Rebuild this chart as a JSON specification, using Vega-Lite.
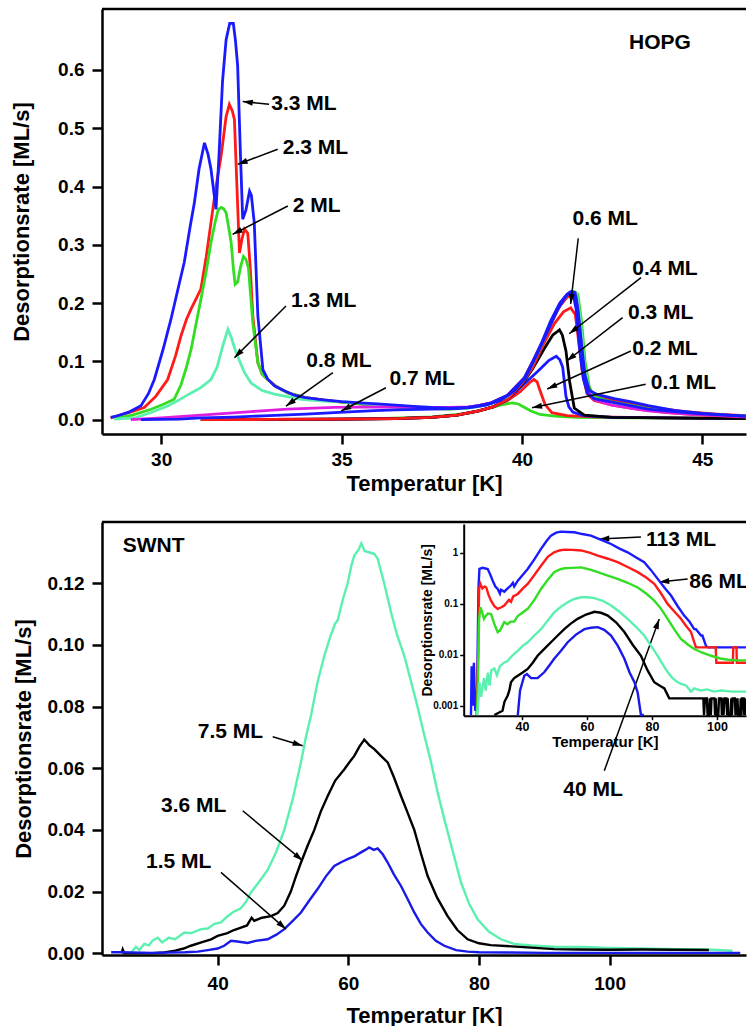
{
  "$schema": "https://vega.github.io/schema/vega-lite/v6.json",
  "padding": {"left": 10, "top": 7, "right": 0, "bottom": 0},
  "spacing": 26,
  "config": {
    "font": "Liberation Sans",
    "view": {"stroke": null},
    "axis": {
      "grid": false,
      "domainColor": "black", "domainWidth": 2.5,
      "tickColor": "black", "tickWidth": 2.5, "tickSize": 10,
      "labelFont": "Liberation Sans", "labelFontWeight": "bold", "labelFontSize": 19, "labelColor": "black", "labelPadding": 8,
      "titleFont": "Liberation Sans", "titleFontWeight": "bold", "titleFontSize": 22, "titleColor": "black"
    }
  },
  "datasets": {
    "hopg": [
      {"s":"0.1 ML","T":31.1,"r":0},{"s":"0.1 ML","T":34,"r":0.0005},{"s":"0.1 ML","T":36,"r":0.002},{"s":"0.1 ML","T":37.5,"r":0.005},{"s":"0.1 ML","T":38.5,"r":0.011},{"s":"0.1 ML","T":39.0,"r":0.018},{"s":"0.1 ML","T":39.4,"r":0.025},{"s":"0.1 ML","T":39.73,"r":0.029},{"s":"0.1 ML","T":39.9,"r":0.027},{"s":"0.1 ML","T":40.1,"r":0.02},{"s":"0.1 ML","T":40.25,"r":0.015},{"s":"0.1 ML","T":40.5,"r":0.009},{"s":"0.1 ML","T":40.9,"r":0.006},{"s":"0.1 ML","T":41.5,"r":0.004},{"s":"0.1 ML","T":43,"r":0.003},{"s":"0.1 ML","T":46.2,"r":0.002},
      {"s":"0.2 ML","T":31.1,"r":0},{"s":"0.2 ML","T":33,"r":0.0005},{"s":"0.2 ML","T":35,"r":0.001},{"s":"0.2 ML","T":36.5,"r":0.002},{"s":"0.2 ML","T":37.5,"r":0.004},{"s":"0.2 ML","T":38.2,"r":0.008},{"s":"0.2 ML","T":38.8,"r":0.015},{"s":"0.2 ML","T":39.2,"r":0.022},{"s":"0.2 ML","T":39.6,"r":0.033},{"s":"0.2 ML","T":39.95,"r":0.048},{"s":"0.2 ML","T":40.2,"r":0.063},{"s":"0.2 ML","T":40.33,"r":0.069},{"s":"0.2 ML","T":40.42,"r":0.065},{"s":"0.2 ML","T":40.5,"r":0.05},{"s":"0.2 ML","T":40.64,"r":0.026},{"s":"0.2 ML","T":40.83,"r":0.012},{"s":"0.2 ML","T":41.25,"r":0.007},{"s":"0.2 ML","T":42,"r":0.005},{"s":"0.2 ML","T":44,"r":0.003},{"s":"0.2 ML","T":46.2,"r":0.002},
      {"s":"0.3 ML","T":31.1,"r":0},{"s":"0.3 ML","T":33,"r":0.0005},{"s":"0.3 ML","T":35,"r":0.001},{"s":"0.3 ML","T":36.5,"r":0.002},{"s":"0.3 ML","T":37.5,"r":0.004},{"s":"0.3 ML","T":38.2,"r":0.008},{"s":"0.3 ML","T":38.8,"r":0.015},{"s":"0.3 ML","T":39.2,"r":0.022},{"s":"0.3 ML","T":39.6,"r":0.035},{"s":"0.3 ML","T":40.0,"r":0.058},{"s":"0.3 ML","T":40.44,"r":0.083},{"s":"0.3 ML","T":40.75,"r":0.102},{"s":"0.3 ML","T":40.95,"r":0.109},{"s":"0.3 ML","T":41.05,"r":0.103},{"s":"0.3 ML","T":41.13,"r":0.09},{"s":"0.3 ML","T":41.22,"r":0.04},{"s":"0.3 ML","T":41.3,"r":0.022},{"s":"0.3 ML","T":41.41,"r":0.013},{"s":"0.3 ML","T":41.7,"r":0.007},{"s":"0.3 ML","T":42.5,"r":0.004},{"s":"0.3 ML","T":46.2,"r":0.002},
      {"s":"0.4 ML","T":31.1,"r":0},{"s":"0.4 ML","T":33,"r":0.0005},{"s":"0.4 ML","T":35,"r":0.001},{"s":"0.4 ML","T":36.5,"r":0.002},{"s":"0.4 ML","T":37.5,"r":0.004},{"s":"0.4 ML","T":38.2,"r":0.008},{"s":"0.4 ML","T":38.8,"r":0.015},{"s":"0.4 ML","T":39.2,"r":0.022},{"s":"0.4 ML","T":39.6,"r":0.035},{"s":"0.4 ML","T":40.0,"r":0.06},{"s":"0.4 ML","T":40.3,"r":0.088},{"s":"0.4 ML","T":40.6,"r":0.12},{"s":"0.4 ML","T":40.85,"r":0.145},{"s":"0.4 ML","T":41.04,"r":0.154},{"s":"0.4 ML","T":41.12,"r":0.145},{"s":"0.4 ML","T":41.22,"r":0.118},{"s":"0.4 ML","T":41.32,"r":0.066},{"s":"0.4 ML","T":41.45,"r":0.02},{"s":"0.4 ML","T":41.73,"r":0.008},{"s":"0.4 ML","T":42.5,"r":0.004},{"s":"0.4 ML","T":44,"r":0.003},{"s":"0.4 ML","T":46.2,"r":0.002},
      {"s":"0.6 ML","T":31.1,"r":0},{"s":"0.6 ML","T":33,"r":0.0005},{"s":"0.6 ML","T":35,"r":0.001},{"s":"0.6 ML","T":36.5,"r":0.002},{"s":"0.6 ML","T":37.5,"r":0.004},{"s":"0.6 ML","T":38.2,"r":0.008},{"s":"0.6 ML","T":38.8,"r":0.015},{"s":"0.6 ML","T":39.2,"r":0.022},{"s":"0.6 ML","T":39.6,"r":0.035},{"s":"0.6 ML","T":40.0,"r":0.062},{"s":"0.6 ML","T":40.3,"r":0.09},{"s":"0.6 ML","T":40.6,"r":0.13},{"s":"0.6 ML","T":40.9,"r":0.165},{"s":"0.6 ML","T":41.15,"r":0.185},{"s":"0.6 ML","T":41.35,"r":0.192},{"s":"0.6 ML","T":41.48,"r":0.18},{"s":"0.6 ML","T":41.58,"r":0.13},{"s":"0.6 ML","T":41.68,"r":0.08},{"s":"0.6 ML","T":41.8,"r":0.045},{"s":"0.6 ML","T":42.0,"r":0.033},{"s":"0.6 ML","T":42.5,"r":0.025},{"s":"0.6 ML","T":43.2,"r":0.018},{"s":"0.6 ML","T":44,"r":0.012},{"s":"0.6 ML","T":45,"r":0.008},{"s":"0.6 ML","T":46.2,"r":0.005},
      {"s":"2.3 ML","T":28.6,"r":0.003},{"s":"2.3 ML","T":28.75,"r":0.006},{"s":"2.3 ML","T":29.1,"r":0.012},{"s":"2.3 ML","T":29.53,"r":0.021},{"s":"2.3 ML","T":29.85,"r":0.04},{"s":"2.3 ML","T":30.18,"r":0.069},{"s":"2.3 ML","T":30.4,"r":0.11},{"s":"2.3 ML","T":30.55,"r":0.144},{"s":"2.3 ML","T":30.7,"r":0.172},{"s":"2.3 ML","T":30.83,"r":0.19},{"s":"2.3 ML","T":30.95,"r":0.205},{"s":"2.3 ML","T":31.1,"r":0.224},{"s":"2.3 ML","T":31.25,"r":0.28},{"s":"2.3 ML","T":31.38,"r":0.338},{"s":"2.3 ML","T":31.52,"r":0.4},{"s":"2.3 ML","T":31.66,"r":0.452},{"s":"2.3 ML","T":31.8,"r":0.52},{"s":"2.3 ML","T":31.89,"r":0.541},{"s":"2.3 ML","T":31.97,"r":0.53},{"s":"2.3 ML","T":32.03,"r":0.515},{"s":"2.3 ML","T":32.1,"r":0.4},{"s":"2.3 ML","T":32.17,"r":0.286},{"s":"2.3 ML","T":32.24,"r":0.31},{"s":"2.3 ML","T":32.31,"r":0.327},{"s":"2.3 ML","T":32.4,"r":0.32},{"s":"2.3 ML","T":32.47,"r":0.26},{"s":"2.3 ML","T":32.54,"r":0.178},{"s":"2.3 ML","T":32.68,"r":0.098},{"s":"2.3 ML","T":32.8,"r":0.078},{"s":"2.3 ML","T":32.95,"r":0.069},{"s":"2.3 ML","T":33.2,"r":0.057},{"s":"2.3 ML","T":33.51,"r":0.046},{"s":"2.3 ML","T":34,"r":0.038},{"s":"2.3 ML","T":34.5,"r":0.034},{"s":"2.3 ML","T":35,"r":0.03},{"s":"2.3 ML","T":35.5,"r":0.027},{"s":"2.3 ML","T":36,"r":0.024},{"s":"2.3 ML","T":36.5,"r":0.022},{"s":"2.3 ML","T":37,"r":0.02},{"s":"2.3 ML","T":37.5,"r":0.019},{"s":"2.3 ML","T":38,"r":0.019},{"s":"2.3 ML","T":38.5,"r":0.021},{"s":"2.3 ML","T":38.8,"r":0.024},{"s":"2.3 ML","T":39.15,"r":0.029},{"s":"2.3 ML","T":39.6,"r":0.042},{"s":"2.3 ML","T":40.07,"r":0.072},{"s":"2.3 ML","T":40.3,"r":0.1},{"s":"2.3 ML","T":40.53,"r":0.128},{"s":"2.3 ML","T":40.8,"r":0.165},{"s":"2.3 ML","T":41.05,"r":0.195},{"s":"2.3 ML","T":41.25,"r":0.21},{"s":"2.3 ML","T":41.4,"r":0.215},{"s":"2.3 ML","T":41.5,"r":0.21},{"s":"2.3 ML","T":41.6,"r":0.18},{"s":"2.3 ML","T":41.7,"r":0.11},{"s":"2.3 ML","T":41.8,"r":0.065},{"s":"2.3 ML","T":41.95,"r":0.045},{"s":"2.3 ML","T":42.3,"r":0.036},{"s":"2.3 ML","T":42.8,"r":0.03},{"s":"2.3 ML","T":43.5,"r":0.022},{"s":"2.3 ML","T":44.5,"r":0.014},{"s":"2.3 ML","T":45.5,"r":0.009},{"s":"2.3 ML","T":46.2,"r":0.007},
      {"s":"2 ML","T":28.7,"r":0.002},{"s":"2 ML","T":29.2,"r":0.008},{"s":"2 ML","T":29.72,"r":0.018},{"s":"2 ML","T":30.05,"r":0.026},{"s":"2 ML","T":30.36,"r":0.035},{"s":"2 ML","T":30.55,"r":0.06},{"s":"2 ML","T":30.7,"r":0.09},{"s":"2 ML","T":30.83,"r":0.121},{"s":"2 ML","T":30.97,"r":0.165},{"s":"2 ML","T":31.1,"r":0.206},{"s":"2 ML","T":31.25,"r":0.255},{"s":"2 ML","T":31.38,"r":0.304},{"s":"2 ML","T":31.5,"r":0.34},{"s":"2 ML","T":31.58,"r":0.36},{"s":"2 ML","T":31.66,"r":0.364},{"s":"2 ML","T":31.73,"r":0.362},{"s":"2 ML","T":31.8,"r":0.355},{"s":"2 ML","T":31.87,"r":0.33},{"s":"2 ML","T":31.94,"r":0.304},{"s":"2 ML","T":32.0,"r":0.26},{"s":"2 ML","T":32.05,"r":0.232},{"s":"2 ML","T":32.12,"r":0.236},{"s":"2 ML","T":32.2,"r":0.262},{"s":"2 ML","T":32.28,"r":0.28},{"s":"2 ML","T":32.35,"r":0.275},{"s":"2 ML","T":32.42,"r":0.26},{"s":"2 ML","T":32.54,"r":0.166},{"s":"2 ML","T":32.68,"r":0.098},{"s":"2 ML","T":32.8,"r":0.078},{"s":"2 ML","T":32.95,"r":0.069},{"s":"2 ML","T":33.2,"r":0.056},{"s":"2 ML","T":33.51,"r":0.046},{"s":"2 ML","T":34,"r":0.038},{"s":"2 ML","T":34.5,"r":0.033},{"s":"2 ML","T":35,"r":0.03},{"s":"2 ML","T":35.5,"r":0.027},{"s":"2 ML","T":36,"r":0.024},{"s":"2 ML","T":36.5,"r":0.022},{"s":"2 ML","T":37,"r":0.02},{"s":"2 ML","T":37.5,"r":0.019},{"s":"2 ML","T":38,"r":0.018},{"s":"2 ML","T":38.5,"r":0.02},{"s":"2 ML","T":38.8,"r":0.023},{"s":"2 ML","T":39.15,"r":0.028},{"s":"2 ML","T":39.6,"r":0.04},{"s":"2 ML","T":40.07,"r":0.07},{"s":"2 ML","T":40.3,"r":0.097},{"s":"2 ML","T":40.53,"r":0.127},{"s":"2 ML","T":40.8,"r":0.165},{"s":"2 ML","T":41.05,"r":0.198},{"s":"2 ML","T":41.25,"r":0.214},{"s":"2 ML","T":41.45,"r":0.22},{"s":"2 ML","T":41.55,"r":0.215},{"s":"2 ML","T":41.65,"r":0.17},{"s":"2 ML","T":41.75,"r":0.1},{"s":"2 ML","T":41.87,"r":0.055},{"s":"2 ML","T":42.0,"r":0.04},{"s":"2 ML","T":42.5,"r":0.03},{"s":"2 ML","T":43,"r":0.025},{"s":"2 ML","T":43.5,"r":0.019},{"s":"2 ML","T":44.5,"r":0.012},{"s":"2 ML","T":45.5,"r":0.008},{"s":"2 ML","T":46.2,"r":0.006},
      {"s":"1.3 ML","T":28.7,"r":0.001},{"s":"1.3 ML","T":29.26,"r":0.003},{"s":"1.3 ML","T":29.7,"r":0.012},{"s":"1.3 ML","T":30.18,"r":0.0235},{"s":"1.3 ML","T":30.5,"r":0.034},{"s":"1.3 ML","T":30.83,"r":0.046},{"s":"1.3 ML","T":31.1,"r":0.055},{"s":"1.3 ML","T":31.38,"r":0.069},{"s":"1.3 ML","T":31.55,"r":0.09},{"s":"1.3 ML","T":31.7,"r":0.125},{"s":"1.3 ML","T":31.85,"r":0.155},{"s":"1.3 ML","T":31.95,"r":0.14},{"s":"1.3 ML","T":32.05,"r":0.12},{"s":"1.3 ML","T":32.12,"r":0.109},{"s":"1.3 ML","T":32.3,"r":0.082},{"s":"1.3 ML","T":32.49,"r":0.063},{"s":"1.3 ML","T":32.8,"r":0.05},{"s":"1.3 ML","T":33.14,"r":0.044},{"s":"1.3 ML","T":33.88,"r":0.035},{"s":"1.3 ML","T":34.5,"r":0.032},{"s":"1.3 ML","T":35,"r":0.031},{"s":"1.3 ML","T":35.5,"r":0.029},{"s":"1.3 ML","T":36,"r":0.025},{"s":"1.3 ML","T":36.5,"r":0.023},{"s":"1.3 ML","T":37,"r":0.021},{"s":"1.3 ML","T":37.5,"r":0.02},{"s":"1.3 ML","T":38,"r":0.019},{"s":"1.3 ML","T":38.5,"r":0.02},{"s":"1.3 ML","T":38.8,"r":0.023},{"s":"1.3 ML","T":39.15,"r":0.028},{"s":"1.3 ML","T":39.6,"r":0.04},{"s":"1.3 ML","T":40.07,"r":0.07},{"s":"1.3 ML","T":40.3,"r":0.097},{"s":"1.3 ML","T":40.53,"r":0.127},{"s":"1.3 ML","T":40.8,"r":0.166},{"s":"1.3 ML","T":41.05,"r":0.198},{"s":"1.3 ML","T":41.25,"r":0.214},{"s":"1.3 ML","T":41.42,"r":0.22},{"s":"1.3 ML","T":41.52,"r":0.215},{"s":"1.3 ML","T":41.62,"r":0.17},{"s":"1.3 ML","T":41.72,"r":0.1},{"s":"1.3 ML","T":41.85,"r":0.05},{"s":"1.3 ML","T":42.0,"r":0.035},{"s":"1.3 ML","T":42.5,"r":0.026},{"s":"1.3 ML","T":43,"r":0.021},{"s":"1.3 ML","T":43.5,"r":0.016},{"s":"1.3 ML","T":44.5,"r":0.011},{"s":"1.3 ML","T":45.5,"r":0.008},{"s":"1.3 ML","T":46.2,"r":0.006},
      {"s":"0.8 ML","T":29.16,"r":0},{"s":"0.8 ML","T":30,"r":0.003},{"s":"0.8 ML","T":31.1,"r":0.008},{"s":"0.8 ML","T":32.5,"r":0.014},{"s":"0.8 ML","T":33.5,"r":0.018},{"s":"0.8 ML","T":34.8,"r":0.021},{"s":"0.8 ML","T":36,"r":0.022},{"s":"0.8 ML","T":37,"r":0.021},{"s":"0.8 ML","T":38,"r":0.021},{"s":"0.8 ML","T":38.5,"r":0.022},{"s":"0.8 ML","T":38.8,"r":0.024},{"s":"0.8 ML","T":39.15,"r":0.029},{"s":"0.8 ML","T":39.6,"r":0.041},{"s":"0.8 ML","T":40.07,"r":0.071},{"s":"0.8 ML","T":40.3,"r":0.098},{"s":"0.8 ML","T":40.53,"r":0.128},{"s":"0.8 ML","T":40.8,"r":0.167},{"s":"0.8 ML","T":41.05,"r":0.199},{"s":"0.8 ML","T":41.25,"r":0.215},{"s":"0.8 ML","T":41.4,"r":0.22},{"s":"0.8 ML","T":41.5,"r":0.212},{"s":"0.8 ML","T":41.6,"r":0.16},{"s":"0.8 ML","T":41.7,"r":0.09},{"s":"0.8 ML","T":41.82,"r":0.05},{"s":"0.8 ML","T":42,"r":0.034},{"s":"0.8 ML","T":42.5,"r":0.025},{"s":"0.8 ML","T":43,"r":0.02},{"s":"0.8 ML","T":43.5,"r":0.015},{"s":"0.8 ML","T":44.5,"r":0.01},{"s":"0.8 ML","T":45.5,"r":0.007},{"s":"0.8 ML","T":46.2,"r":0.005},
      {"s":"0.7 ML","T":29.44,"r":0},{"s":"0.7 ML","T":30.5,"r":0.001},{"s":"0.7 ML","T":31.1,"r":0.003},{"s":"0.7 ML","T":32,"r":0.0046},{"s":"0.7 ML","T":33,"r":0.007},{"s":"0.7 ML","T":34,"r":0.0095},{"s":"0.7 ML","T":34.8,"r":0.012},{"s":"0.7 ML","T":35.9,"r":0.0155},{"s":"0.7 ML","T":36.5,"r":0.017},{"s":"0.7 ML","T":37.5,"r":0.018},{"s":"0.7 ML","T":38.2,"r":0.019},{"s":"0.7 ML","T":38.6,"r":0.021},{"s":"0.7 ML","T":39,"r":0.025},{"s":"0.7 ML","T":39.4,"r":0.033},{"s":"0.7 ML","T":39.8,"r":0.05},{"s":"0.7 ML","T":40.1,"r":0.072},{"s":"0.7 ML","T":40.4,"r":0.11},{"s":"0.7 ML","T":40.7,"r":0.15},{"s":"0.7 ML","T":41.0,"r":0.19},{"s":"0.7 ML","T":41.2,"r":0.21},{"s":"0.7 ML","T":41.32,"r":0.218},{"s":"0.7 ML","T":41.42,"r":0.215},{"s":"0.7 ML","T":41.5,"r":0.19},{"s":"0.7 ML","T":41.6,"r":0.12},{"s":"0.7 ML","T":41.7,"r":0.07},{"s":"0.7 ML","T":41.82,"r":0.045},{"s":"0.7 ML","T":42,"r":0.036},{"s":"0.7 ML","T":42.5,"r":0.03},{"s":"0.7 ML","T":43,"r":0.024},{"s":"0.7 ML","T":43.5,"r":0.018},{"s":"0.7 ML","T":44.22,"r":0.014},{"s":"0.7 ML","T":45,"r":0.01},{"s":"0.7 ML","T":46.2,"r":0.006},
      {"s":"3.3 ML","T":28.6,"r":0.004},{"s":"3.3 ML","T":28.75,"r":0.006},{"s":"3.3 ML","T":29.1,"r":0.013},{"s":"3.3 ML","T":29.44,"r":0.024},{"s":"3.3 ML","T":29.65,"r":0.045},{"s":"3.3 ML","T":29.81,"r":0.069},{"s":"3.3 ML","T":30.05,"r":0.12},{"s":"3.3 ML","T":30.27,"r":0.172},{"s":"3.3 ML","T":30.45,"r":0.22},{"s":"3.3 ML","T":30.64,"r":0.27},{"s":"3.3 ML","T":30.8,"r":0.33},{"s":"3.3 ML","T":30.92,"r":0.372},{"s":"3.3 ML","T":31.05,"r":0.43},{"s":"3.3 ML","T":31.2,"r":0.475},{"s":"3.3 ML","T":31.3,"r":0.455},{"s":"3.3 ML","T":31.38,"r":0.43},{"s":"3.3 ML","T":31.52,"r":0.361},{"s":"3.3 ML","T":31.6,"r":0.45},{"s":"3.3 ML","T":31.7,"r":0.58},{"s":"3.3 ML","T":31.8,"r":0.652},{"s":"3.3 ML","T":31.9,"r":0.68},{"s":"3.3 ML","T":32.0,"r":0.68},{"s":"3.3 ML","T":32.06,"r":0.65},{"s":"3.3 ML","T":32.12,"r":0.607},{"s":"3.3 ML","T":32.2,"r":0.45},{"s":"3.3 ML","T":32.26,"r":0.344},{"s":"3.3 ML","T":32.35,"r":0.36},{"s":"3.3 ML","T":32.45,"r":0.392},{"s":"3.3 ML","T":32.5,"r":0.385},{"s":"3.3 ML","T":32.58,"r":0.338},{"s":"3.3 ML","T":32.68,"r":0.178},{"s":"3.3 ML","T":32.82,"r":0.086},{"s":"3.3 ML","T":32.95,"r":0.07},{"s":"3.3 ML","T":33.14,"r":0.058},{"s":"3.3 ML","T":33.4,"r":0.05},{"s":"3.3 ML","T":33.69,"r":0.042},{"s":"3.3 ML","T":34,"r":0.038},{"s":"3.3 ML","T":34.5,"r":0.034},{"s":"3.3 ML","T":35,"r":0.031},{"s":"3.3 ML","T":35.5,"r":0.029},{"s":"3.3 ML","T":36,"r":0.027},{"s":"3.3 ML","T":36.5,"r":0.025},{"s":"3.3 ML","T":37,"r":0.023},{"s":"3.3 ML","T":37.5,"r":0.021},{"s":"3.3 ML","T":38,"r":0.02},{"s":"3.3 ML","T":38.5,"r":0.021},{"s":"3.3 ML","T":38.8,"r":0.024},{"s":"3.3 ML","T":39.15,"r":0.029},{"s":"3.3 ML","T":39.6,"r":0.042},{"s":"3.3 ML","T":40.07,"r":0.072},{"s":"3.3 ML","T":40.3,"r":0.1},{"s":"3.3 ML","T":40.53,"r":0.13},{"s":"3.3 ML","T":40.8,"r":0.17},{"s":"3.3 ML","T":41.05,"r":0.2},{"s":"3.3 ML","T":41.25,"r":0.215},{"s":"3.3 ML","T":41.36,"r":0.22},{"s":"3.3 ML","T":41.47,"r":0.218},{"s":"3.3 ML","T":41.55,"r":0.19},{"s":"3.3 ML","T":41.65,"r":0.13},{"s":"3.3 ML","T":41.75,"r":0.075},{"s":"3.3 ML","T":41.87,"r":0.05},{"s":"3.3 ML","T":42.1,"r":0.043},{"s":"3.3 ML","T":42.56,"r":0.036},{"s":"3.3 ML","T":43,"r":0.031},{"s":"3.3 ML","T":43.5,"r":0.024},{"s":"3.3 ML","T":44.22,"r":0.016},{"s":"3.3 ML","T":45,"r":0.011},{"s":"3.3 ML","T":45.7,"r":0.008},{"s":"3.3 ML","T":46.2,"r":0.006}
    ],
    "hopgArrows": [
      {"T":32.99,"r":0.541,"T2":32.26,"r2":0.546,"a":277.2},
      {"T":33.23,"r":0.464,"T2":32.12,"r2":0.438,"a":249.4},
      {"T":33.51,"r":0.3666,"T2":31.98,"r2":0.318,"a":242.8},
      {"T":33.46,"r":0.195,"T2":32.03,"r2":0.1063,"a":225},
      {"T":34.76,"r":0.0806,"T2":33.46,"r2":0.0235,"a":234.5},
      {"T":36.23,"r":0.0549,"T2":34.99,"r2":0.0149,"a":242.6},
      {"T":41.56,"r":0.311,"T2":41.35,"r2":0.1985,"a":186.3},
      {"T":43.3,"r":0.2436,"T2":41.31,"r2":0.1475,"a":232},
      {"T":42.79,"r":0.175,"T2":41.24,"r2":0.1007,"a":232.1},
      {"T":43.02,"r":0.1178,"T2":40.7,"r2":0.0527,"a":245.6},
      {"T":43.43,"r":0.0607,"T2":40.28,"r2":0.0206,"a":258.4}
    ],
    "hopgLabels": [
      {"label":"3.3 ML","T":33.05,"r":0.5415},
      {"label":"2.3 ML","T":33.37,"r":0.4666},
      {"label":"2 ML","T":33.65,"r":0.3666},
      {"label":"1.3 ML","T":33.6,"r":0.2036},
      {"label":"0.8 ML","T":34.02,"r":0.1007},
      {"label":"0.7 ML","T":36.33,"r":0.0693},
      {"label":"0.6 ML","T":41.4,"r":0.3437},
      {"label":"0.4 ML","T":43.06,"r":0.258},
      {"label":"0.3 ML","T":42.94,"r":0.1835},
      {"label":"0.2 ML","T":43.06,"r":0.1208},
      {"label":"0.1 ML","T":43.57,"r":0.0635},
      {"label":"HOPG","T":42.97,"r":0.6467}
    ],
    "swnt": [
      {"s":"7.5 ML","T":26.74,"r":0.0002},{"s":"7.5 ML","T":27.5,"r":0.002},{"s":"7.5 ML","T":28.0,"r":0.001},{"s":"7.5 ML","T":28.77,"r":0.003},{"s":"7.5 ML","T":29.5,"r":0.0025},{"s":"7.5 ML","T":30.0,"r":0.004},{"s":"7.5 ML","T":30.83,"r":0.005},{"s":"7.5 ML","T":31.5,"r":0.0035},{"s":"7.5 ML","T":32.5,"r":0.005},{"s":"7.5 ML","T":33.5,"r":0.0045},{"s":"7.5 ML","T":34.9,"r":0.0067},{"s":"7.5 ML","T":36,"r":0.0065},{"s":"7.5 ML","T":37.45,"r":0.0078},{"s":"7.5 ML","T":38.5,"r":0.008},{"s":"7.5 ML","T":39.5,"r":0.0095},{"s":"7.5 ML","T":40.5,"r":0.01},{"s":"7.5 ML","T":41.54,"r":0.012},{"s":"7.5 ML","T":42.5,"r":0.0135},{"s":"7.5 ML","T":43.5,"r":0.0145},{"s":"7.5 ML","T":44.3,"r":0.0165},{"s":"7.5 ML","T":45.1,"r":0.0197},{"s":"7.5 ML","T":46.3,"r":0.023},{"s":"7.5 ML","T":47.66,"r":0.027},{"s":"7.5 ML","T":49,"r":0.033},{"s":"7.5 ML","T":50.2,"r":0.04},{"s":"7.5 ML","T":51.5,"r":0.05},{"s":"7.5 ML","T":52.76,"r":0.062},{"s":"7.5 ML","T":53.5,"r":0.07},{"s":"7.5 ML","T":54.29,"r":0.077},{"s":"7.5 ML","T":55.3,"r":0.088},{"s":"7.5 ML","T":56.33,"r":0.0965},{"s":"7.5 ML","T":57.3,"r":0.103},{"s":"7.5 ML","T":58.0,"r":0.107},{"s":"7.5 ML","T":58.38,"r":0.108},{"s":"7.5 ML","T":59.2,"r":0.115},{"s":"7.5 ML","T":59.91,"r":0.12},{"s":"7.5 ML","T":60.5,"r":0.126},{"s":"7.5 ML","T":60.92,"r":0.129},{"s":"7.5 ML","T":61.6,"r":0.131},{"s":"7.5 ML","T":62.0,"r":0.133},{"s":"7.5 ML","T":62.5,"r":0.1305},{"s":"7.5 ML","T":63.3,"r":0.13},{"s":"7.5 ML","T":64,"r":0.1295},{"s":"7.5 ML","T":64.5,"r":0.128},{"s":"7.5 ML","T":65.5,"r":0.12},{"s":"7.5 ML","T":66.54,"r":0.1106},{"s":"7.5 ML","T":67.5,"r":0.103},{"s":"7.5 ML","T":68.57,"r":0.0965},{"s":"7.5 ML","T":69.5,"r":0.089},{"s":"7.5 ML","T":70.6,"r":0.08},{"s":"7.5 ML","T":71.6,"r":0.071},{"s":"7.5 ML","T":72.66,"r":0.062},{"s":"7.5 ML","T":73.7,"r":0.052},{"s":"7.5 ML","T":74.7,"r":0.0435},{"s":"7.5 ML","T":76,"r":0.033},{"s":"7.5 ML","T":77.25,"r":0.023},{"s":"7.5 ML","T":78.5,"r":0.016},{"s":"7.5 ML","T":79.8,"r":0.011},{"s":"7.5 ML","T":81.5,"r":0.007},{"s":"7.5 ML","T":83.37,"r":0.0045},{"s":"7.5 ML","T":85.4,"r":0.003},{"s":"7.5 ML","T":88,"r":0.0025},{"s":"7.5 ML","T":92,"r":0.002},{"s":"7.5 ML","T":96,"r":0.002},{"s":"7.5 ML","T":100,"r":0.0017},{"s":"7.5 ML","T":105,"r":0.0015},{"s":"7.5 ML","T":110,"r":0.0013},{"s":"7.5 ML","T":115,"r":0.0012},{"s":"7.5 ML","T":118.8,"r":0.0008},
      {"s":"3.6 ML","T":25.3,"r":0},{"s":"3.6 ML","T":25.47,"r":0.0012},{"s":"3.6 ML","T":25.7,"r":0},{"s":"3.6 ML","T":30,"r":0},{"s":"3.6 ML","T":31.84,"r":0.0002},{"s":"3.6 ML","T":33.5,"r":0.0008},{"s":"3.6 ML","T":34.8,"r":0.0015},{"s":"3.6 ML","T":35.9,"r":0.0024},{"s":"3.6 ML","T":37.5,"r":0.0035},{"s":"3.6 ML","T":39,"r":0.0045},{"s":"3.6 ML","T":40.0,"r":0.0056},{"s":"3.6 ML","T":41.5,"r":0.0065},{"s":"3.6 ML","T":42.5,"r":0.0075},{"s":"3.6 ML","T":43.57,"r":0.0083},{"s":"3.6 ML","T":44.5,"r":0.009},{"s":"3.6 ML","T":45.2,"r":0.0115},{"s":"3.6 ML","T":45.6,"r":0.0105},{"s":"3.6 ML","T":46.8,"r":0.0115},{"s":"3.6 ML","T":48.17,"r":0.012},{"s":"3.6 ML","T":49.2,"r":0.013},{"s":"3.6 ML","T":50.2,"r":0.0154},{"s":"3.6 ML","T":51.2,"r":0.02},{"s":"3.6 ML","T":52.0,"r":0.025},{"s":"3.6 ML","T":52.76,"r":0.0294},{"s":"3.6 ML","T":53.8,"r":0.035},{"s":"3.6 ML","T":54.8,"r":0.04},{"s":"3.6 ML","T":55.8,"r":0.046},{"s":"3.6 ML","T":56.85,"r":0.051},{"s":"3.6 ML","T":58,"r":0.056},{"s":"3.6 ML","T":59.4,"r":0.0597},{"s":"3.6 ML","T":60.2,"r":0.062},{"s":"3.6 ML","T":60.92,"r":0.064},{"s":"3.6 ML","T":61.7,"r":0.067},{"s":"3.6 ML","T":62.45,"r":0.0693},{"s":"3.6 ML","T":63.2,"r":0.0675},{"s":"3.6 ML","T":63.98,"r":0.0662},{"s":"3.6 ML","T":65,"r":0.064},{"s":"3.6 ML","T":66.03,"r":0.0619},{"s":"3.6 ML","T":67,"r":0.057},{"s":"3.6 ML","T":68.07,"r":0.051},{"s":"3.6 ML","T":69,"r":0.046},{"s":"3.6 ML","T":70.1,"r":0.04},{"s":"3.6 ML","T":71.1,"r":0.0325},{"s":"3.6 ML","T":72.15,"r":0.025},{"s":"3.6 ML","T":73.6,"r":0.018},{"s":"3.6 ML","T":75.2,"r":0.012},{"s":"3.6 ML","T":76.7,"r":0.0075},{"s":"3.6 ML","T":78.27,"r":0.0045},{"s":"3.6 ML","T":80,"r":0.0032},{"s":"3.6 ML","T":81.8,"r":0.0026},{"s":"3.6 ML","T":85,"r":0.0022},{"s":"3.6 ML","T":88,"r":0.0018},{"s":"3.6 ML","T":91.5,"r":0.0013},{"s":"3.6 ML","T":95,"r":0.0012},{"s":"3.6 ML","T":100,"r":0.0011},{"s":"3.6 ML","T":105,"r":0.0012},{"s":"3.6 ML","T":110,"r":0.0011},{"s":"3.6 ML","T":115.2,"r":0.001},
      {"s":"1.5 ML","T":23.7,"r":0.0003},{"s":"1.5 ML","T":25,"r":0.0003},{"s":"1.5 ML","T":30,"r":0.0001},{"s":"1.5 ML","T":35,"r":0.0003},{"s":"1.5 ML","T":36.95,"r":0.0005},{"s":"1.5 ML","T":38.5,"r":0.001},{"s":"1.5 ML","T":40,"r":0.0015},{"s":"1.5 ML","T":41.0,"r":0.0024},{"s":"1.5 ML","T":42.05,"r":0.004},{"s":"1.5 ML","T":43,"r":0.0038},{"s":"1.5 ML","T":44.6,"r":0.0033},{"s":"1.5 ML","T":45.8,"r":0.004},{"s":"1.5 ML","T":47.66,"r":0.0045},{"s":"1.5 ML","T":49,"r":0.006},{"s":"1.5 ML","T":50.2,"r":0.0078},{"s":"1.5 ML","T":51.5,"r":0.0105},{"s":"1.5 ML","T":52.76,"r":0.0132},{"s":"1.5 ML","T":54,"r":0.017},{"s":"1.5 ML","T":55.3,"r":0.0208},{"s":"1.5 ML","T":56.6,"r":0.025},{"s":"1.5 ML","T":57.86,"r":0.0283},{"s":"1.5 ML","T":58.9,"r":0.0295},{"s":"1.5 ML","T":59.9,"r":0.0305},{"s":"1.5 ML","T":61,"r":0.0315},{"s":"1.5 ML","T":61.95,"r":0.0327},{"s":"1.5 ML","T":62.6,"r":0.0335},{"s":"1.5 ML","T":63.2,"r":0.0343},{"s":"1.5 ML","T":63.9,"r":0.0335},{"s":"1.5 ML","T":64.5,"r":0.034},{"s":"1.5 ML","T":65.3,"r":0.032},{"s":"1.5 ML","T":66.03,"r":0.0294},{"s":"1.5 ML","T":67,"r":0.0255},{"s":"1.5 ML","T":68.07,"r":0.0218},{"s":"1.5 ML","T":69.1,"r":0.0175},{"s":"1.5 ML","T":70.1,"r":0.0132},{"s":"1.5 ML","T":71.1,"r":0.0095},{"s":"1.5 ML","T":72.15,"r":0.0067},{"s":"1.5 ML","T":73.4,"r":0.004},{"s":"1.5 ML","T":74.7,"r":0.0024},{"s":"1.5 ML","T":76.5,"r":0.001},{"s":"1.5 ML","T":78.27,"r":0.0005},{"s":"1.5 ML","T":80,"r":0.0003},{"s":"1.5 ML","T":85,"r":0.0002},{"s":"1.5 ML","T":90,"r":0.0001},{"s":"1.5 ML","T":100,"r":0.0001},{"s":"1.5 ML","T":110,"r":0.0001},{"s":"1.5 ML","T":120,"r":0.0001}
    ],
    "swntArrows": [
      {"T":48.43,"r":0.0702,"T2":53.02,"r2":0.0673,"a":106.7},
      {"T":43.84,"r":0.0462,"T2":53.02,"r2":0.03,"a":129.8},
      {"T":40.51,"r":0.0262,"T2":50.46,"r2":0.0078,"a":131.1},
      {"T":104.8,"r":0.135,"T2":98.42,"r2":0.1344,"a":267.7},
      {"T":111.95,"r":0.1214,"T2":107.6,"r2":0.1204,"a":263.4},
      {"T":99.19,"r":0.0592,"T2":107.6,"r2":0.1084,"a":19.9}
    ],
    "swntLabels": [
      {"label":"SWNT","T":25.47,"r":0.1322},
      {"label":"7.5 ML","T":36.95,"r":0.0717},
      {"label":"3.6 ML","T":31.33,"r":0.0478},
      {"label":"1.5 ML","T":29.03,"r":0.0296},
      {"label":"40 ML","T":92.91,"r":0.053},
      {"label":"113 ML","T":105.57,"r":0.1342},
      {"label":"86 ML","T":112.2,"r":0.1204}
    ],
    "inset": [
      {"s":"113 ML","T":24.3,"r":0.00066},{"s":"113 ML","T":24.5,"r":0.006},{"s":"113 ML","T":24.8,"r":0.001},{"s":"113 ML","T":25.2,"r":0.007},{"s":"113 ML","T":25.6,"r":0.0008},{"s":"113 ML","T":26.2,"r":0.002},{"s":"113 ML","T":26.6,"r":0.2},{"s":"113 ML","T":26.9,"r":0.485},{"s":"113 ML","T":27.9,"r":0.51},{"s":"113 ML","T":29.45,"r":0.485},{"s":"113 ML","T":30.2,"r":0.38},{"s":"113 ML","T":30.98,"r":0.286},{"s":"113 ML","T":31.8,"r":0.22},{"s":"113 ML","T":32.5,"r":0.197},{"s":"113 ML","T":33.2,"r":0.16},{"s":"113 ML","T":33.5,"r":0.19},{"s":"113 ML","T":34.55,"r":0.174},{"s":"113 ML","T":35.5,"r":0.2},{"s":"113 ML","T":36.6,"r":0.23},{"s":"113 ML","T":37.2,"r":0.26},{"s":"113 ML","T":37.6,"r":0.22},{"s":"113 ML","T":38.7,"r":0.286},{"s":"113 ML","T":40.2,"r":0.37},{"s":"113 ML","T":41.75,"r":0.485},{"s":"113 ML","T":43.8,"r":0.75},{"s":"113 ML","T":45.85,"r":1.2},{"s":"113 ML","T":47.5,"r":1.7},{"s":"113 ML","T":48.9,"r":2.19},{"s":"113 ML","T":50.5,"r":2.5},{"s":"113 ML","T":52,"r":2.62},{"s":"113 ML","T":54,"r":2.58},{"s":"113 ML","T":56.1,"r":2.55},{"s":"113 ML","T":58.5,"r":2.35},{"s":"113 ML","T":61.2,"r":2.19},{"s":"113 ML","T":64,"r":1.85},{"s":"113 ML","T":67.4,"r":1.5},{"s":"113 ML","T":70,"r":1.22},{"s":"113 ML","T":72.5,"r":1.03},{"s":"113 ML","T":75,"r":0.82},{"s":"113 ML","T":77.6,"r":0.656},{"s":"113 ML","T":79.7,"r":0.46},{"s":"113 ML","T":81.75,"r":0.31},{"s":"113 ML","T":83.8,"r":0.21},{"s":"113 ML","T":85.85,"r":0.146},{"s":"113 ML","T":87.9,"r":0.09},{"s":"113 ML","T":89.9,"r":0.059},{"s":"113 ML","T":91.5,"r":0.045},{"s":"113 ML","T":93,"r":0.032},{"s":"113 ML","T":93.5,"r":0.032},{"s":"113 ML","T":95.1,"r":0.024},{"s":"113 ML","T":95.5,"r":0.024},{"s":"113 ML","T":96.6,"r":0.015},{"s":"113 ML","T":97.2,"r":0.014},{"s":"113 ML","T":100,"r":0.014},{"s":"113 ML","T":104,"r":0.014},{"s":"113 ML","T":108.9,"r":0.014},
      {"s":"86 ML","T":26.0,"r":0.00066},{"s":"86 ML","T":26.5,"r":0.01},{"s":"86 ML","T":26.8,"r":0.2},{"s":"86 ML","T":27.2,"r":0.247},{"s":"86 ML","T":27.8,"r":0.2},{"s":"86 ML","T":28.5,"r":0.22},{"s":"86 ML","T":29,"r":0.21},{"s":"86 ML","T":29.7,"r":0.15},{"s":"86 ML","T":30.46,"r":0.116},{"s":"86 ML","T":31.5,"r":0.09},{"s":"86 ML","T":32.5,"r":0.08},{"s":"86 ML","T":33.5,"r":0.085},{"s":"86 ML","T":34.55,"r":0.093},{"s":"86 ML","T":36,"r":0.12},{"s":"86 ML","T":36.6,"r":0.11},{"s":"86 ML","T":37.3,"r":0.14},{"s":"86 ML","T":38.7,"r":0.157},{"s":"86 ML","T":40.2,"r":0.2},{"s":"86 ML","T":41.75,"r":0.247},{"s":"86 ML","T":43.8,"r":0.37},{"s":"86 ML","T":45.85,"r":0.56},{"s":"86 ML","T":48,"r":0.85},{"s":"86 ML","T":49.9,"r":1.03},{"s":"86 ML","T":51.5,"r":1.12},{"s":"86 ML","T":53,"r":1.16},{"s":"86 ML","T":55.5,"r":1.15},{"s":"86 ML","T":58.2,"r":1.12},{"s":"86 ML","T":61,"r":1.0},{"s":"86 ML","T":63.3,"r":0.89},{"s":"86 ML","T":66.4,"r":0.77},{"s":"86 ML","T":69.4,"r":0.66},{"s":"86 ML","T":72.5,"r":0.53},{"s":"86 ML","T":75.6,"r":0.42},{"s":"86 ML","T":78.2,"r":0.33},{"s":"86 ML","T":80.7,"r":0.247},{"s":"86 ML","T":82.8,"r":0.16},{"s":"86 ML","T":84.8,"r":0.1},{"s":"86 ML","T":86.8,"r":0.072},{"s":"86 ML","T":88.9,"r":0.051},{"s":"86 ML","T":90.5,"r":0.037},{"s":"86 ML","T":92,"r":0.028},{"s":"86 ML","T":93.5,"r":0.014},{"s":"86 ML","T":99.6,"r":0.014},{"s":"86 ML","T":99.8,"r":0.007},{"s":"86 ML","T":104.9,"r":0.007},{"s":"86 ML","T":105.0,"r":0.014},{"s":"86 ML","T":106.0,"r":0.014},{"s":"86 ML","T":106.1,"r":0.007},{"s":"86 ML","T":108.9,"r":0.007},
      {"s":"40 ML","T":26.2,"r":0.00066},{"s":"40 ML","T":26.8,"r":0.05},{"s":"40 ML","T":27.2,"r":0.086},{"s":"40 ML","T":27.7,"r":0.07},{"s":"40 ML","T":28.3,"r":0.051},{"s":"40 ML","T":29,"r":0.06},{"s":"40 ML","T":29.5,"r":0.065},{"s":"40 ML","T":30.5,"r":0.063},{"s":"40 ML","T":31.5,"r":0.04},{"s":"40 ML","T":32.5,"r":0.028},{"s":"40 ML","T":33.2,"r":0.03},{"s":"40 ML","T":34.55,"r":0.044},{"s":"40 ML","T":35.5,"r":0.04},{"s":"40 ML","T":36.5,"r":0.045},{"s":"40 ML","T":37.6,"r":0.045},{"s":"40 ML","T":38.7,"r":0.058},{"s":"40 ML","T":40.2,"r":0.068},{"s":"40 ML","T":41.75,"r":0.08},{"s":"40 ML","T":43.8,"r":0.12},{"s":"40 ML","T":45.85,"r":0.197},{"s":"40 ML","T":48,"r":0.3},{"s":"40 ML","T":49.9,"r":0.418},{"s":"40 ML","T":51.5,"r":0.47},{"s":"40 ML","T":53,"r":0.5},{"s":"40 ML","T":55.5,"r":0.51},{"s":"40 ML","T":58.2,"r":0.52},{"s":"40 ML","T":61,"r":0.47},{"s":"40 ML","T":63.3,"r":0.42},{"s":"40 ML","T":66.4,"r":0.36},{"s":"40 ML","T":69.4,"r":0.31},{"s":"40 ML","T":72.5,"r":0.26},{"s":"40 ML","T":75.6,"r":0.21},{"s":"40 ML","T":78.2,"r":0.16},{"s":"40 ML","T":80.7,"r":0.116},{"s":"40 ML","T":82.8,"r":0.08},{"s":"40 ML","T":84.8,"r":0.051},{"s":"40 ML","T":86.8,"r":0.032},{"s":"40 ML","T":88.9,"r":0.0206},{"s":"40 ML","T":91,"r":0.016},{"s":"40 ML","T":93,"r":0.013},{"s":"40 ML","T":95.5,"r":0.011},{"s":"40 ML","T":98.2,"r":0.0096},{"s":"40 ML","T":101,"r":0.0085},{"s":"40 ML","T":103.4,"r":0.008},{"s":"40 ML","T":106,"r":0.0078},{"s":"40 ML","T":108.9,"r":0.0078},
      {"s":"7.5 ML","T":26.1,"r":0.00066},{"s":"7.5 ML","T":26.5,"r":0.001},{"s":"7.5 ML","T":26.9,"r":0.0029},{"s":"7.5 ML","T":27.4,"r":0.0015},{"s":"7.5 ML","T":28.3,"r":0.0035},{"s":"7.5 ML","T":28.8,"r":0.002},{"s":"7.5 ML","T":29.5,"r":0.0045},{"s":"7.5 ML","T":30.0,"r":0.0025},{"s":"7.5 ML","T":30.6,"r":0.005},{"s":"7.5 ML","T":31.5,"r":0.0054},{"s":"7.5 ML","T":32.3,"r":0.004},{"s":"7.5 ML","T":33.2,"r":0.006},{"s":"7.5 ML","T":34.55,"r":0.0071},{"s":"7.5 ML","T":35.5,"r":0.0075},{"s":"7.5 ML","T":36.6,"r":0.0091},{"s":"7.5 ML","T":37.6,"r":0.0105},{"s":"7.5 ML","T":38.7,"r":0.012},{"s":"7.5 ML","T":40.2,"r":0.015},{"s":"7.5 ML","T":41.75,"r":0.0177},{"s":"7.5 ML","T":43.8,"r":0.024},{"s":"7.5 ML","T":45.85,"r":0.032},{"s":"7.5 ML","T":47.9,"r":0.047},{"s":"7.5 ML","T":49.9,"r":0.068},{"s":"7.5 ML","T":52,"r":0.088},{"s":"7.5 ML","T":54.06,"r":0.108},{"s":"7.5 ML","T":56.1,"r":0.125},{"s":"7.5 ML","T":58.2,"r":0.135},{"s":"7.5 ML","T":60.2,"r":0.135},{"s":"7.5 ML","T":62.3,"r":0.13},{"s":"7.5 ML","T":64.8,"r":0.115},{"s":"7.5 ML","T":67.4,"r":0.093},{"s":"7.5 ML","T":70,"r":0.07},{"s":"7.5 ML","T":72.5,"r":0.051},{"s":"7.5 ML","T":75,"r":0.036},{"s":"7.5 ML","T":77.6,"r":0.024},{"s":"7.5 ML","T":79.7,"r":0.015},{"s":"7.5 ML","T":81.75,"r":0.0096},{"s":"7.5 ML","T":83.3,"r":0.0065},{"s":"7.5 ML","T":84.8,"r":0.0046},{"s":"7.5 ML","T":86.3,"r":0.0035},{"s":"7.5 ML","T":87.9,"r":0.0029},{"s":"7.5 ML","T":89,"r":0.0027},{"s":"7.5 ML","T":90.5,"r":0.0025},{"s":"7.5 ML","T":92,"r":0.0019},{"s":"7.5 ML","T":93,"r":0.0022},{"s":"7.5 ML","T":95,"r":0.002},{"s":"7.5 ML","T":97,"r":0.0021},{"s":"7.5 ML","T":99,"r":0.0019},{"s":"7.5 ML","T":101.2,"r":0.002},{"s":"7.5 ML","T":104.8,"r":0.0019},{"s":"7.5 ML","T":108.9,"r":0.0019},
      {"s":"3.6 ML","T":31.5,"r":0.00066},{"s":"3.6 ML","T":34.0,"r":0.0008},{"s":"3.6 ML","T":34.6,"r":0.0012},{"s":"3.6 ML","T":35.6,"r":0.0016},{"s":"3.6 ML","T":36.1,"r":0.002},{"s":"3.6 ML","T":36.6,"r":0.0029},{"s":"3.6 ML","T":37.6,"r":0.0035},{"s":"3.6 ML","T":38.7,"r":0.0039},{"s":"3.6 ML","T":40.2,"r":0.0045},{"s":"3.6 ML","T":41.75,"r":0.0053},{"s":"3.6 ML","T":43.3,"r":0.007},{"s":"3.6 ML","T":44.8,"r":0.0096},{"s":"3.6 ML","T":46.8,"r":0.013},{"s":"3.6 ML","T":48.9,"r":0.0177},{"s":"3.6 ML","T":51,"r":0.024},{"s":"3.6 ML","T":53,"r":0.032},{"s":"3.6 ML","T":55,"r":0.041},{"s":"3.6 ML","T":57.1,"r":0.051},{"s":"3.6 ML","T":59.7,"r":0.062},{"s":"3.6 ML","T":62.3,"r":0.07},{"s":"3.6 ML","T":64.3,"r":0.067},{"s":"3.6 ML","T":66.4,"r":0.059},{"s":"3.6 ML","T":69,"r":0.043},{"s":"3.6 ML","T":71.5,"r":0.028},{"s":"3.6 ML","T":74,"r":0.016},{"s":"3.6 ML","T":76.6,"r":0.0096},{"s":"3.6 ML","T":78.6,"r":0.005},{"s":"3.6 ML","T":80.7,"r":0.0029},{"s":"3.6 ML","T":82.3,"r":0.0025},{"s":"3.6 ML","T":83.8,"r":0.0022},{"s":"3.6 ML","T":85.3,"r":0.0014},{"s":"3.6 ML","T":90,"r":0.0014},{"s":"3.6 ML","T":95.8,"r":0.0014},{"s":"3.6 ML","T":96.0,"r":0.00066},{"s":"3.6 ML","T":96.3,"r":0.0014},{"s":"3.6 ML","T":96.9,"r":0.0014},{"s":"3.6 ML","T":97.1,"r":0.00066},{"s":"3.6 ML","T":97.6,"r":0.00066},{"s":"3.6 ML","T":97.8,"r":0.0014},{"s":"3.6 ML","T":98.1,"r":0.00066},{"s":"3.6 ML","T":98.3,"r":0.0014},{"s":"3.6 ML","T":99.2,"r":0.0014},{"s":"3.6 ML","T":99.4,"r":0.00066},{"s":"3.6 ML","T":99.6,"r":0.0014},{"s":"3.6 ML","T":99.8,"r":0.00066},{"s":"3.6 ML","T":100.4,"r":0.00066},{"s":"3.6 ML","T":100.6,"r":0.0014},{"s":"3.6 ML","T":101.3,"r":0.0014},{"s":"3.6 ML","T":101.5,"r":0.00066},{"s":"3.6 ML","T":101.8,"r":0.0014},{"s":"3.6 ML","T":102.0,"r":0.00066},{"s":"3.6 ML","T":102.3,"r":0.0014},{"s":"3.6 ML","T":102.9,"r":0.0014},{"s":"3.6 ML","T":103.1,"r":0.00066},{"s":"3.6 ML","T":103.3,"r":0.0014},{"s":"3.6 ML","T":103.5,"r":0.00066},{"s":"3.6 ML","T":104.2,"r":0.00066},{"s":"3.6 ML","T":104.4,"r":0.0014},{"s":"3.6 ML","T":104.6,"r":0.00066},{"s":"3.6 ML","T":104.8,"r":0.0014},{"s":"3.6 ML","T":105.5,"r":0.0014},{"s":"3.6 ML","T":105.7,"r":0.00066},{"s":"3.6 ML","T":105.9,"r":0.0014},{"s":"3.6 ML","T":106.1,"r":0.00066},{"s":"3.6 ML","T":106.3,"r":0.0014},{"s":"3.6 ML","T":106.5,"r":0.00066},{"s":"3.6 ML","T":107.1,"r":0.00066},{"s":"3.6 ML","T":107.3,"r":0.0014},{"s":"3.6 ML","T":107.5,"r":0.00066},{"s":"3.6 ML","T":107.7,"r":0.0014},{"s":"3.6 ML","T":108.2,"r":0.0014},{"s":"3.6 ML","T":108.4,"r":0.00066},{"s":"3.6 ML","T":108.6,"r":0.0014},{"s":"3.6 ML","T":108.9,"r":0.00066},
      {"s":"1.5 ML","T":38.7,"r":0.00066},{"s":"1.5 ML","T":39.4,"r":0.002},{"s":"1.5 ML","T":40.7,"r":0.0039},{"s":"1.5 ML","T":41.5,"r":0.0042},{"s":"1.5 ML","T":42.8,"r":0.0035},{"s":"1.5 ML","T":44.8,"r":0.0035},{"s":"1.5 ML","T":46.9,"r":0.0046},{"s":"1.5 ML","T":48.4,"r":0.0062},{"s":"1.5 ML","T":49.9,"r":0.0084},{"s":"1.5 ML","T":52,"r":0.012},{"s":"1.5 ML","T":54.06,"r":0.0177},{"s":"1.5 ML","T":56.6,"r":0.025},{"s":"1.5 ML","T":59.2,"r":0.032},{"s":"1.5 ML","T":61.2,"r":0.034},{"s":"1.5 ML","T":63.3,"r":0.035},{"s":"1.5 ML","T":65.3,"r":0.031},{"s":"1.5 ML","T":67.4,"r":0.024},{"s":"1.5 ML","T":69.5,"r":0.015},{"s":"1.5 ML","T":71.5,"r":0.0084},{"s":"1.5 ML","T":73.1,"r":0.0045},{"s":"1.5 ML","T":74.6,"r":0.0029},{"s":"1.5 ML","T":75.6,"r":0.0018},{"s":"1.5 ML","T":76.6,"r":0.00066},{"s":"1.5 ML","T":77.5,"r":0.00066}
    ]
  },
  "vconcat": [
    {
      "width": 644,
      "height": 425,
      "layer": [
        {
          "data": {"name": "hopg"},
          "mark": {"type": "line", "strokeWidth": 2.8, "clip": true},
          "encoding": {
            "x": {"field": "T", "type": "quantitative",
                  "scale": {"domain": [28.36, 46.21], "nice": false, "zero": false},
                  "axis": {"title": "Temperatur [K]", "values": [30, 35, 40, 45], "labelPadding": 6, "titlePadding": 4}},
            "y": {"field": "r", "type": "quantitative",
                  "scale": {"domain": [-0.0245, 0.7045], "nice": false, "zero": false},
                  "axis": {"title": "Desorptionsrate [ML/s]", "values": [0, 0.1, 0.2, 0.3, 0.4, 0.5, 0.6], "format": ".1f", "titlePadding": 24}},
            "color": {"field": "s", "type": "nominal", "legend": null,
                      "scale": {"domain": ["3.3 ML","2.3 ML","2 ML","1.3 ML","0.8 ML","0.7 ML","0.6 ML","0.4 ML","0.3 ML","0.2 ML","0.1 ML"],
                                "range": ["#1a1aff","#ff1a1a","#33dd22","#5cf0b0","#e01ee0","#1a1aff","#ff1a1a","#000000","#1a1aff","#ff1a1a","#33dd22"]}}
          }
        },
        {
          "data": {"values": [{}]},
          "mark": {"type": "rule", "color": "black", "strokeWidth": 2.5},
          "encoding": {"y": {"datum": 0.7045}}
        },
        {
          "data": {"name": "hopgArrows"},
          "mark": {"type": "rule", "color": "black", "strokeWidth": 1.5},
          "encoding": {
            "x": {"field": "T", "type": "quantitative"},
            "y": {"field": "r", "type": "quantitative"},
            "x2": {"field": "T2"},
            "y2": {"field": "r2"}
          }
        },
        {
          "data": {"name": "hopgArrows"},
          "mark": {"type": "point", "shape": "M0,0L0.6,2L-0.6,2Z", "filled": true, "color": "black", "opacity": 1, "size": 100, "strokeWidth": 0},
          "encoding": {
            "x": {"field": "T2", "type": "quantitative"},
            "y": {"field": "r2", "type": "quantitative"},
            "angle": {"field": "a", "type": "quantitative", "scale": null}
          }
        },
        {
          "data": {"name": "hopgLabels"},
          "mark": {"type": "text", "align": "left", "baseline": "middle", "fontSize": 21, "fontWeight": "bold", "font": "Liberation Sans", "color": "black", "clip": true},
          "encoding": {
            "x": {"field": "T", "type": "quantitative"},
            "y": {"field": "r", "type": "quantitative"},
            "text": {"field": "label"}
          }
        }
      ]
    },
    {
      "width": 644,
      "height": 433,
      "layer": [
        {
          "layer": [
            {
              "data": {"name": "swnt"},
              "mark": {"type": "line", "strokeWidth": 2.4, "clip": true},
              "encoding": {
                "x": {"field": "T", "type": "quantitative",
                      "scale": {"domain": [22.3, 120.88], "nice": false, "zero": false},
                      "axis": {"title": "Temperatur [K]", "values": [40, 60, 80, 100], "labelPadding": 9, "titlePadding": 12}},
                "y": {"field": "r", "type": "quantitative",
                      "scale": {"domain": [-0.0006, 0.1399], "nice": false, "zero": false},
                      "axis": {"title": "Desorptionsrate [ML/s]", "values": [0, 0.02, 0.04, 0.06, 0.08, 0.1, 0.12], "format": ".2f", "titlePadding": 12}},
                "color": {"field": "s", "type": "nominal", "legend": null,
                          "scale": {"domain": ["7.5 ML","3.6 ML","1.5 ML"], "range": ["#5cf0b0","#000000","#1a1ae8"]}}
              }
            },
            {
              "data": {"values": [{}]},
              "mark": {"type": "rule", "color": "black", "strokeWidth": 2.5},
              "encoding": {"y": {"datum": 0.1399}}
            },
            {
              "data": {"name": "swntArrows"},
              "mark": {"type": "rule", "color": "black", "strokeWidth": 1.5},
              "encoding": {
                "x": {"field": "T", "type": "quantitative"},
                "y": {"field": "r", "type": "quantitative"},
                "x2": {"field": "T2"},
                "y2": {"field": "r2"}
              }
            },
            {
              "data": {"name": "swntArrows"},
              "mark": {"type": "point", "shape": "M0,0L0.6,2L-0.6,2Z", "filled": true, "color": "black", "opacity": 1, "size": 100, "strokeWidth": 0},
              "encoding": {
                "x": {"field": "T2", "type": "quantitative"},
                "y": {"field": "r2", "type": "quantitative"},
                "angle": {"field": "a", "type": "quantitative", "scale": null}
              }
            },
            {
              "data": {"name": "swntLabels"},
              "mark": {"type": "text", "align": "left", "baseline": "middle", "fontSize": 21, "fontWeight": "bold", "font": "Liberation Sans", "color": "black", "clip": true},
              "encoding": {
                "x": {"field": "T", "type": "quantitative"},
                "y": {"field": "r", "type": "quantitative"},
                "text": {"field": "label"}
              }
            }
          ]
        },
        {
          "data": {"name": "inset"},
          "mark": {"type": "line", "strokeWidth": 2.4, "clip": true},
          "encoding": {
            "x": {"field": "T", "type": "quantitative",
                  "scale": {"domain": [22.06, 108.92], "range": [361.7, 644], "nice": false, "zero": false},
                  "axis": {"orient": "bottom", "offset": -239.3, "title": "Temperatur [K]", "values": [40, 60, 80, 100],
                           "labelFontSize": 12.5, "titleFontSize": 15, "tickSize": 4, "tickWidth": 1.5, "domainWidth": 2, "labelPadding": 1, "titlePadding": 1}},
            "y": {"field": "r", "type": "quantitative",
                  "scale": {"type": "log", "domain": [0.00064, 3.7], "range": [193.7, 2], "nice": false},
                  "axis": {"orient": "left", "offset": -361.7, "title": "Desorptionsrate [ML/s]", "values": [0.001, 0.01, 0.1, 1], "format": "~g",
                           "labelFontSize": 10, "titleFontSize": 14, "tickSize": 4, "tickWidth": 1.5, "domainWidth": 2, "labelPadding": 2, "titlePadding": -2}},
            "color": {"field": "s", "type": "nominal", "legend": null,
                      "scale": {"domain": ["113 ML","86 ML","40 ML","7.5 ML","3.6 ML","1.5 ML"],
                                "range": ["#1a1aff","#ff1a1a","#33dd22","#5cf0b0","#000000","#1a1ae8"]}}
          }
        }
      ],
      "resolve": {"scale": {"x": "independent", "y": "independent", "color": "independent"}}
    }
  ]
}
